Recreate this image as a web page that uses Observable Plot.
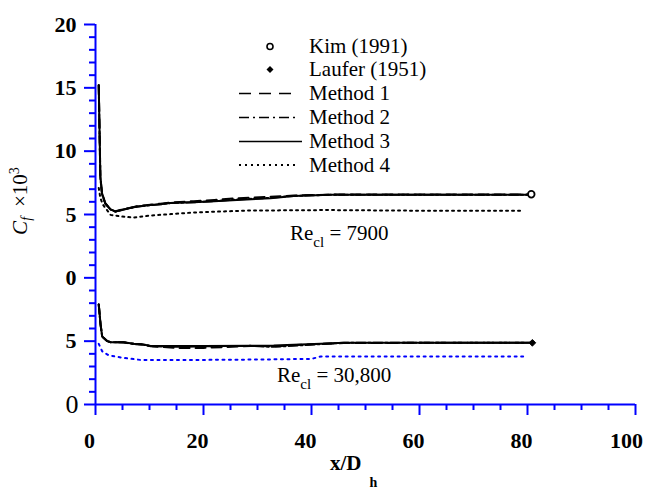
<!DOCTYPE html>
<html><head><meta charset="utf-8">
<script src="https://cdn.jsdelivr.net/npm/d3@7"></script>
<script src="https://cdn.jsdelivr.net/npm/@observablehq/plot@0.6"></script>
<style>
body{margin:0;background:#fff;}
#chart{position:relative;width:648px;height:490px;}
</style></head><body><div id="chart"></div>
<script>
// ---- data (Cf x 10^3 vs x/Dh) ----
// Re_cl = 7900 (drawn shifted up by OFFSET on the shared axis)
const x7900   = [0.6, 0.9, 1.2, 1.8, 2.8, 3.7, 5.2, 7.7, 10.2, 12, 13.9, 18.2, 22, 26.2, 32.4, 36.7, 43.5, 50, 60, 70, 80.7];
const m1_7900 = [15.2, 8.0, 6.7, 5.9, 5.4, 5.25, 5.42, 5.65, 5.78, 5.85, 5.95, 6.05, 6.15, 6.28, 6.4, 6.5, 6.57, 6.57, 6.57, 6.57, 6.57];
const m2_7900 = [15.2, 7.9, 6.6, 5.85, 5.38, 5.22, 5.4, 5.62, 5.74, 5.8, 5.9, 5.97, 6.06, 6.18, 6.32, 6.47, 6.55, 6.55, 6.55, 6.55, 6.55];
const m3_7900 = [15.2, 8.0, 6.7, 5.9, 5.4, 5.23, 5.4, 5.63, 5.74, 5.8, 5.9, 5.97, 6.05, 6.15, 6.29, 6.47, 6.55, 6.55, 6.55, 6.55, 6.55];
const x4_7900 = [0.6, 0.9, 1.4, 2.8, 4.9, 7.0, 10.2, 13.9, 18.2, 28, 43, 60, 78.7];
const m4_7900 = [7.1, 6.3, 5.76, 4.97, 4.84, 4.76, 4.92, 5.03, 5.16, 5.31, 5.35, 5.3, 5.3];
const kimX = [80.7];
const kimCf = [6.6];

// Re_cl = 30,800
const x30800   = [0.6, 0.93, 1.24, 2.2, 2.8, 5.2, 7.1, 8.9, 10.2, 15, 20, 28.7, 33, 41.7, 46, 60, 80.9];
const m1_30800 = [7.9, 6.37, 5.37, 5.0, 4.92, 4.92, 4.79, 4.74, 4.6, 4.47, 4.47, 4.62, 4.6, 4.79, 4.85, 4.87, 4.87];
const m2_30800 = [7.9, 6.3, 5.35, 5.0, 4.92, 4.9, 4.77, 4.72, 4.6, 4.55, 4.6, 4.63, 4.55, 4.77, 4.87, 4.87, 4.87];
const m3_30800 = [7.9, 6.37, 5.37, 5.0, 4.92, 4.92, 4.79, 4.74, 4.62, 4.62, 4.62, 4.64, 4.66, 4.79, 4.87, 4.87, 4.87];
const x4_30800 = [0.6, 1.24, 2.5, 5.2, 8.3, 20, 30, 40, 41.7, 60, 80];
const m4_30800 = [4.79, 4.2, 3.87, 3.68, 3.52, 3.52, 3.55, 3.6, 3.79, 3.79, 3.79];
const lauferX = [80.9];
const lauferCf = [4.87];

const OFFSET = 10;
const yTicks = [0, 5, 10, 15, 20, 25, 30];
const yTickLabels = ["0", "5", "0", "5", "10", "15", "20"];
const xTicks = [0, 20, 40, 60, 80, 100];
const legendLabels = ["Kim (1991)", "Laufer (1951)", "Method 1", "Method 2", "Method 3", "Method 4"];

// ---- build tables ----
function rows(xs, ys, off) { return xs.map((x, i) => ({x, y: ys[i] + off})); }
const FONT = "Liberation Serif, Times New Roman, serif";
const BLUE = "#0000ff";
const yMinor = d3.range(0, 31, 1).filter(v => v % 5 !== 0);
const xMinor = d3.range(0, 101, 5).filter(v => v % 20 !== 0);

const lineOpts = {x: "x", y: "y", stroke: "black", strokeWidth: 2};
const xLabOpts = {tickSize: 0, tickPadding: 28, label: null,
  tickFormat: d => String(d), fontSize: 22, fontWeight: "bold", fill: "black"};

const plot = Plot.plot({
  width: 648, height: 490,
  marginLeft: 95, marginRight: 13, marginTop: 24, marginBottom: 86,
  style: {fontFamily: FONT, background: "white", color: "black"},
  x: {domain: [0, 100]},
  y: {domain: [0, 30]},
  marks: [
    // curves
    Plot.line(rows(x7900, m1_7900, OFFSET), {...lineOpts, strokeDasharray: "10,6"}),
    Plot.line(rows(x7900, m2_7900, OFFSET), {...lineOpts, strokeDasharray: "9,3,2,3"}),
    Plot.line(rows(x4_7900, m4_7900, OFFSET), {...lineOpts, strokeDasharray: "2,4"}),
    Plot.line(rows(x7900, m3_7900, OFFSET), {...lineOpts}),
    Plot.line(rows(x30800, m1_30800, 0), {...lineOpts, strokeDasharray: "10,6"}),
    Plot.line(rows(x30800, m2_30800, 0), {...lineOpts, strokeDasharray: "9,3,2,3"}),
    Plot.line(rows(x4_30800, m4_30800, 0), {...lineOpts, stroke: BLUE, strokeDasharray: "2,4.5"}),
    Plot.line(rows(x30800, m3_30800, 0), {...lineOpts}),
    // reference data
    Plot.dot(rows(kimX, kimCf, OFFSET), {x: "x", y: "y", r: 3.3, stroke: "black", strokeWidth: 1.8, fill: "white"}),
    Plot.dot(rows(lauferX, lauferCf, 0), {x: "x", y: "y", r: 3, symbol: "diamond2", fill: "black", stroke: "black", strokeWidth: 1}),
    // axes
    Plot.ruleX([0], {stroke: BLUE, strokeWidth: 2}),
    Plot.ruleY([0], {stroke: BLUE, strokeWidth: 2}),
    Plot.axisY(yMinor, {tickSize: 6, tickFormat: () => "", stroke: BLUE, strokeWidth: 2, label: null}),
    Plot.axisY(yTicks.slice(1), {tickSize: 11, tickPadding: 8, stroke: BLUE, strokeWidth: 2, label: null,
      tickFormat: d => yTickLabels[yTicks.indexOf(d)], fontSize: 22, fontWeight: "bold", fill: "black"}),
    Plot.axisY([0], {tickSize: 11, tickPadding: 6, stroke: BLUE, strokeWidth: 2, label: null,
      tickFormat: d => yTickLabels[yTicks.indexOf(d)], fontSize: 26, fontWeight: "normal", fill: "black"}),
    Plot.axisX(xMinor, {tickSize: 6, tickFormat: () => "", stroke: BLUE, strokeWidth: 2, label: null}),
    Plot.axisX(xTicks, {tickSize: 11, tickFormat: () => "", stroke: BLUE, strokeWidth: 2, label: null}),
    Plot.axisX(xTicks.slice(0, -1), {...xLabOpts, dx: -6}),
    Plot.axisX(xTicks.slice(-1), {...xLabOpts, dx: -9})
  ]
});
document.getElementById("chart").appendChild(plot);

// ---- annotations, labels and legend ----
const svg = d3.select(plot);

// y-axis title
const yt = svg.append("text").attr("font-family", FONT).attr("font-size", 21).attr("fill", "black")
  .attr("text-anchor", "middle").attr("transform", "translate(27,201) rotate(-90)");
yt.append("tspan").attr("font-style", "italic").text("C");
yt.append("tspan").attr("font-style", "italic").attr("font-size", 14).attr("dy", 4).text("f");
yt.append("tspan").attr("dy", -4).attr("dx", 10).text("\u00d710");
yt.append("tspan").attr("font-size", 14).attr("dy", -8).text("3");

// x-axis title
const xt = svg.append("text").attr("font-family", FONT).attr("font-size", 21).attr("font-weight", "bold")
  .attr("fill", "black").attr("text-anchor", "start").attr("x", 330).attr("y", 470);
xt.append("tspan").text("x/D");
xt.append("tspan").attr("font-size", 14).attr("dx", 8).attr("dy", 17).text("h");

// Re annotations
function reLabel(x, y, val) {
  const t = svg.append("text").attr("font-family", FONT).attr("font-size", 21).attr("fill", "black")
    .attr("text-anchor", "start").attr("x", x).attr("y", y);
  t.append("tspan").text("Re");
  t.append("tspan").attr("font-size", 15).attr("dy", 7).text("cl");
  t.append("tspan").attr("dy", -7).text("\u00a0= " + val);
}
reLabel(290, 240, "7900");
reLabel(277, 382, "30,800");

// legend
const lg = svg.append("g").attr("font-family", FONT).attr("font-size", 21).attr("fill", "black")
  .attr("text-anchor", "start");
const rowY = [46.5, 69.5, 93.5, 117.5, 141.5, 165];
const dashes = [null, null, "12,8", "10,4,2,4", null, "2,4"];
legendLabels.forEach((lab, i) => {
  const cy = rowY[i];
  lg.append("text").attr("x", 309).attr("y", cy + 6.5).text(lab);
  if (i === 0) {
    lg.append("circle").attr("cx", 270).attr("cy", cy).attr("r", 3).attr("fill", "white")
      .attr("stroke", "black").attr("stroke-width", 1.6);
  } else if (i === 1) {
    lg.append("path").attr("d", `M270,${cy-3.5}L273.5,${cy}L270,${cy+3.5}L266.5,${cy}Z`).attr("fill", "black");
  } else {
    lg.append("line").attr("x1", 239).attr("x2", i === 4 ? 302 : 297).attr("y1", cy).attr("y2", cy)
      .attr("stroke", "black").attr("stroke-width", i === 5 ? 2 : 1.6).attr("stroke-dasharray", dashes[i]);
  }
});
</script></body></html>
